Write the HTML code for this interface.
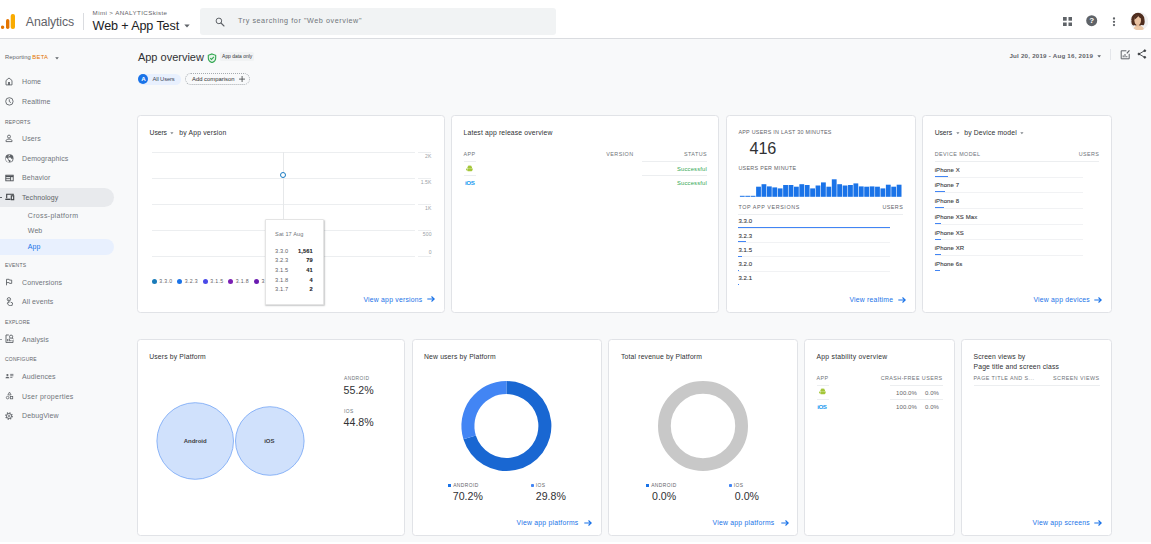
<!DOCTYPE html>
<html>
<head>
<meta charset="utf-8">
<title>Analytics</title>
<style>
*{box-sizing:border-box;margin:0;padding:0}
html,body{width:1151px;height:544px;overflow:hidden;background:#f8f9fa;font-family:"Liberation Sans",sans-serif;color:#202124}
#root{position:fixed;left:0;top:0;width:1151px;height:544px;overflow:hidden;background:#f8f9fa}
.a{position:absolute}
.t{position:absolute;white-space:nowrap;line-height:1;transform:translate(var(--dx,0),calc(-50% + var(--dy,0px)))}
.r{--dx:-100%}
.th{--dy:.9px}
.td{--dy:-.1px}
.hdr{position:absolute;left:0;top:0;width:1151px;height:39px;background:#fff;border-bottom:1px solid #dadce0}
.card{position:absolute;background:#fff;border:1px solid #e1e3e7;border-radius:3.5px}
.nav{font-size:7px;color:#70757a;letter-spacing:.1px}
.sec{font-size:5px;color:#5f6368;letter-spacing:.2px}
.ct{font-size:6.8px;color:#303134;letter-spacing:.16px}
.th{font-size:5.4px;color:#6e7378;letter-spacing:.42px}
.td{font-size:6px;color:#3c4043;letter-spacing:.1px;-webkit-text-stroke:.12px #3c4043}
.lnk{font-size:6.8px;color:#1a73e8;letter-spacing:.24px}
.hl{position:absolute;height:1px;background:#eceef0}
.hl2{background:#f1f2f4}
.bb{position:absolute;height:1px;background:#4285f4}
.big{font-size:10.6px;color:#303134}
</style>
</head>
<body>
<div id="root">

<!-- ================= HEADER ================= -->
<div class="hdr">
  <svg class="a" style="left:.6px;top:13.1px" width="16" height="18" viewBox="0 0 16 18">
    <circle cx="1.6" cy="14.3" r="1.7" fill="#e37400"/>
    <rect x="5" y="6" width="3.4" height="10" rx="1.7" fill="#e37400"/>
    <rect x="9.7" y="1" width="4.3" height="15" rx="2" fill="#f9ab00"/>
  </svg>
  <div class="t" style="left:25.8px;top:21.6px;font-size:12.3px;letter-spacing:-.1px;color:#5f6368">Analytics</div>
  <div class="a" style="left:83px;top:12.7px;width:1px;height:17px;background:#dadce0"></div>
  <div class="t" style="left:92.6px;top:13.3px;font-size:6.2px;letter-spacing:.4px;color:#5f6368">Mimi &gt; ANALYTICSkiste</div>
  <div class="t" style="left:92.6px;top:26.2px;font-size:12.6px;letter-spacing:-.12px;color:#202124">Web + App Test</div>
  <svg class="a" style="left:183.7px;top:23.8px" width="6" height="4" viewBox="0 0 6 4"><path d="M0.3 0.5h5.4L3 3.5z" fill="#5f6368"/></svg>
  <div class="a" style="left:200px;top:8px;width:355.5px;height:26.5px;background:#f1f3f4;border-radius:3px"></div>
  <svg class="a" style="left:214.8px;top:16.6px" width="10" height="10" viewBox="0 0 10 10"><circle cx="3.9" cy="3.9" r="2.8" fill="none" stroke="#5f6368" stroke-width="1"/><path d="M6 6l3 3" stroke="#5f6368" stroke-width="1.1" stroke-linecap="round"/></svg>
  <div class="t" style="left:238px;top:21.4px;font-size:7.2px;color:#70757a;letter-spacing:.57px">Try searching for "Web overview"</div>
  <!-- right icons -->
  <svg class="a" style="left:1063px;top:16.8px" width="9.2" height="9.2" viewBox="0 0 9.2 9.2" fill="#5f6368"><rect x="0" y="0" width="3.7" height="3.7"/><rect x="5.5" y="0" width="3.7" height="3.7"/><rect x="0" y="5.5" width="3.7" height="3.7"/><rect x="5.5" y="5.5" width="3.7" height="3.7"/></svg>
  <svg class="a" style="left:1086.2px;top:15.4px" width="11.4" height="11.4" viewBox="0 0 11.4 11.4"><circle cx="5.7" cy="5.7" r="5.5" fill="#5f6368"/><text x="5.7" y="8.5" font-size="8" font-weight="bold" text-anchor="middle" fill="#fff" font-family="Liberation Sans">?</text></svg>
  <svg class="a" style="left:1112.3px;top:16.5px" width="4" height="10" viewBox="0 0 4 10" fill="#5f6368"><circle cx="2" cy="1.5" r="1.15"/><circle cx="2" cy="4.8" r="1.15"/><circle cx="2" cy="8.1" r="1.15"/></svg>
  <svg class="a" style="left:1129.8px;top:11.5px" width="18.400" height="18.600" viewBox="0 0 18.400 18.600">
    <defs><clipPath id="av"><ellipse cx="9.200" cy="9.300" rx="9.100" ry="9.200"/></clipPath></defs>
    <g clip-path="url(#av)">
      <rect width="18.400" height="18.600" fill="#f0f0f1"/>
      <path d="M3 18.600c.3-3 1.600-4.300 3.600-5.200h3.600c2.400.7 3.800 2.400 4 5.200z" fill="#ebc8a8"/>
      <ellipse cx="7.900" cy="7.400" rx="6.600" ry="6.600" fill="#4f2d1e"/>
      <path d="M1.600 9c-.4 2 .2 3.800 1.600 4.600l2.200-.6V9zM11 13l2.600.2c1-1 1.300-3 .9-5L11 9z" fill="#4f2d1e"/>
      <ellipse cx="7.700" cy="8.200" rx="3.300" ry="4.600" fill="#e9c2a2"/>
      <path d="M6.300 11.500h3v3h-3z" fill="#e5bb99"/>
      <path d="M4.300 7.600C4.300 4.500 5.800 3 8 3c1.800 0 3.200 1.200 3.300 3.600C10 6 8.800 5 8.300 4 7.500 5.500 5.800 6.800 4.300 7.600z" fill="#4f2d1e"/>
    </g>
  </svg>
</div>

<!-- ================= SIDEBAR ================= -->
<div id="side">
  <div class="t" style="left:5.1px;top:57.5px;font-size:5.8px;color:#5f6368;letter-spacing:.05px">Reporting <span style="color:#e37400;letter-spacing:.3px">BETA</span></div>
  <svg class="a" style="left:55px;top:56.5px" width="4" height="3" viewBox="0 0 4 3"><path d="M0.2 0.3h3.6L2 2.6z" fill="#5f6368"/></svg>

  <!-- selected pills -->
  <div class="a" style="left:0;top:188px;width:114px;height:19px;background:#e8eaed;border-radius:0 10px 10px 0"></div>
  <div class="a" style="left:0;top:238.6px;width:114px;height:16px;background:#e8f0fe;border-radius:0 8px 8px 0"></div>
  <div class="a" style="left:0;top:196.7px;width:2px;height:1px;background:#5f6368"></div>
  <div class="a" style="left:0;top:338.7px;width:1.5px;height:1px;background:#9aa0a6"></div>

  <!-- Home -->
  <svg class="a" style="left:4.9px;top:77.2px" width="8" height="8.600" viewBox="0 0 8 8.600" fill="none" stroke="#5f6368" stroke-width=".9"><path d="M1 7.900V3.500L4 1l3 2.500v4.400z"/><path d="M3.100 7.900V4.900h1.800v3z" fill="#5f6368" stroke="none"/></svg>
  <div class="t nav" style="left:22px;top:80.9px">Home</div>
  <!-- Realtime -->
  <svg class="a" style="left:4.900px;top:97px" width="8.800" height="8.800" viewBox="0 0 8.800 8.800" fill="none" stroke="#5f6368" stroke-width=".9"><circle cx="4.400" cy="4.400" r="3.700"/><path d="M4.300 2.300v2.300l1.600 1"/></svg>
  <div class="t nav" style="left:22px;top:101.4px">Realtime</div>

  <div class="t sec" style="left:5px;top:121.8px">REPORTS</div>
  <!-- Users -->
  <svg class="a" style="left:5px;top:134.300px" width="8" height="8.500" viewBox="0 0 8 8.500" fill="none" stroke="#5f6368" stroke-width=".9"><circle cx="4" cy="2.600" r="1.500"/><path d="M1 7.600V6.700c0-1 1.400-1.600 3-1.600s3 .6 3 1.600v.9z"/></svg>
  <div class="t nav" style="left:22px;top:137.9px">Users</div>
  <!-- Demographics -->
  <svg class="a" style="left:4.800px;top:154.100px" width="8.800" height="8.800" viewBox="0 0 8.800 8.800"><circle cx="4.400" cy="4.400" r="4.100" fill="#5f6368"/><path d="M1 3.400l1.900 1.700v1l1 .8v1.400C2 8 .700 6.400.700 4.400c0-.4.100-.7.300-1zM5 .8v.8l-1.500.7.200 1.100 1.800.2 1 1.400 1-.6c.2 1.600-.5 3-1.900 3.700L5.400 6.200l-1.700-.4-.5-1.300 1-1.700-.6-1.500C4 1 4.500.8 5 .8z" fill="#f8f9fa"/></svg>
  <div class="t nav" style="left:22px;top:158.4px">Demographics</div>
  <!-- Behavior -->
  <svg class="a" style="left:5px;top:173.600px" width="9" height="8" viewBox="0 0 9 8" fill="none" stroke="#4d5156" stroke-width=".9"><rect x=".8" y="1.200" width="7.400" height="5.600"/><path d="M.8 2.400h7.400" stroke-width="1.500"/><path d="M5.600 2.600v4.200M.8 4.700h4.800" /></svg>
  <div class="t nav" style="left:22px;top:177px">Behavior</div>
  <!-- Technology -->
  <svg class="a" style="left:4.800px;top:193.300px" width="10" height="8" viewBox="0 0 10 8" fill="none" stroke="#3c4043" stroke-width="1.1"><path d="M1.700 5.300V1.300h6.500v1"/><path d="M.3 6.300h5.200" stroke-width="1.300"/><rect x="6.300" y="2.800" width="2.400" height="3.900"/></svg>
  <div class="t nav" style="left:22px;top:196.8px;color:#5f6368">Technology</div>
  <div class="t nav" style="left:27.8px;top:215.4px;letter-spacing:.33px">Cross-platform</div>
  <div class="t nav" style="left:27.8px;top:229.9px">Web</div>
  <div class="t nav" style="left:27.8px;top:245.9px;color:#1a73e8">App</div>

  <div class="t sec" style="left:5px;top:265px">EVENTS</div>
  <!-- Conversions -->
  <svg class="a" style="left:4.8px;top:278px" width="8" height="8" viewBox="0 0 8 8" fill="none" stroke="#5f6368" stroke-width=".9"><path d="M1.5 7.3V1.3h2.6l.3.8h2.3v3.3H4.5l-.3-.8H1.5"/></svg>
  <div class="t nav" style="left:22px;top:282.2px">Conversions</div>
  <!-- All events -->
  <svg class="a" style="left:4.700px;top:297.200px" width="8.500" height="9.200" viewBox="0 0 8.500 9.200" fill="none" stroke="#5f6368" stroke-width=".9"><circle cx="3.900" cy="2.300" r="1.700"/><path d="M3.900 2.300v3.600l-1-.5-.8.700 2 2.600h2.900l.6-2.700-2-.9" stroke-linejoin="round"/></svg>
  <div class="t nav" style="left:22px;top:300.9px">All events</div>

  <div class="t sec" style="left:5px;top:322.3px">EXPLORE</div>
  <!-- Analysis -->
  <svg class="a" style="left:4.900px;top:334px" width="9" height="9.300" viewBox="0 0 9 9.300" fill="none" stroke="#5f6368" stroke-width=".95"><path d="M3.800 1H1v7.600h7V6"/><circle cx="6.100" cy="2.700" r="1.600"/><path d="M7.200 3.900l1.300 1.400"/><path d="M2.700 7.300V5M4.300 7.300V4.400M5.900 7.300V6" stroke-width="1"/></svg>
  <div class="t nav" style="left:22px;top:338.8px">Analysis</div>

  <div class="t sec" style="left:5px;top:359.4px">CONFIGURE</div>
  <!-- Audiences -->
  <svg class="a" style="left:5px;top:372px" width="9" height="8" viewBox="0 0 9 8" fill="#5f6368"><circle cx="2.4" cy="3" r="1.1"/><path d="M.5 6.3c0-1 .9-1.5 1.9-1.5s1.9.5 1.9 1.5z"/><rect x="5.2" y="1.9" width="3.2" height=".8"/><rect x="5.2" y="3.4" width="3.2" height=".8"/><rect x="5.2" y="4.9" width="2.2" height=".8"/></svg>
  <div class="t nav" style="left:22px;top:375.8px">Audiences</div>
  <!-- User properties -->
  <svg class="a" style="left:4.600px;top:391.400px" width="9" height="9" viewBox="0 0 9 9" fill="none" stroke="#5f6368" stroke-width=".8"><path d="M4.5 1.1L6.1 3.9H2.9z"/><circle cx="2.6" cy="6.6" r="1.3"/><rect x="5.3" y="5.4" width="2.4" height="2.4"/></svg>
  <div class="t nav" style="left:22px;top:395.7px;letter-spacing:.25px">User properties</div>
  <!-- DebugView -->
  <svg class="a" style="left:5.200px;top:411.500px" width="8" height="8" viewBox="0 0 8 8" fill="none" stroke="#5f6368"><circle cx="4" cy="4" r="2.500" stroke-width=".9"/><circle cx="4" cy="4" r="3.200" stroke-width="1.200" stroke-dasharray="1.250 1.260"/><path d="M3 3.400h2M3 4.600h2" stroke-width=".7"/></svg>
  <div class="t nav" style="left:22px;top:414.9px">DebugView</div>
</div>

<!-- ================= MAIN ================= -->
<div id="main">
  <!-- title row -->
  <div class="t" style="left:137.9px;top:57.3px;font-size:11px;color:#303134">App overview</div>
  <svg class="a" style="left:207.2px;top:52.6px" width="10" height="10.4" viewBox="0 0 10 10.4" fill="#e6f4ea" stroke="#34a853" stroke-width="1.1"><path d="M5 .9l3.700 1.400v2.700c0 2.100-1.500 3.800-3.700 4.600C2.800 8.800 1.300 7.100 1.300 5V2.300z"/><path d="M3.200 5.100l1.300 1.300 2.400-2.500" fill="none"/></svg>
  <div class="a" style="left:220px;top:52.4px;width:34px;height:8.6px;background:#f1f3f4;border-radius:1.5px"></div>
  <div class="t" style="left:222.1px;top:56.9px;font-size:4.9px;color:#303134;letter-spacing:.02px">App data only</div>

  <div class="a" style="left:138.3px;top:74px;width:42.8px;height:10.6px;background:#e8f0fe;border-radius:5.3px"></div>
  <div class="a" style="left:138.3px;top:74.1px;width:10.2px;height:10.2px;background:#1a73e8;border-radius:50%"></div>
  <div class="t" style="left:141.2px;top:79.3px;font-size:6.2px;font-weight:bold;color:#fff">A</div>
  <div class="t" style="left:152.5px;top:79.5px;font-size:5.8px;color:#3c4858;letter-spacing:-.12px">All Users</div>
  <div class="a" style="left:185.4px;top:73.2px;width:64.4px;height:12.2px;border:1px dotted #a6abb0;border-radius:6.1px"></div>
  <div class="t" style="left:192px;top:79.5px;font-size:5.9px;color:#303134">Add comparison</div>
  <svg class="a" style="left:238.8px;top:76px" width="6.2" height="6.2" viewBox="0 0 6.2 6.2" stroke="#3c4043" stroke-width=".8"><path d="M3.100 0v6.200M0 3.100h6.200"/></svg>

  <div class="t" style="left:1009.4px;top:56.2px;font-size:6.2px;font-weight:bold;color:#5f6368;letter-spacing:.22px">Jul 20, 2019 - Aug 16, 2019</div>
  <svg class="a" style="left:1097.2px;top:54.8px" width="4.3" height="3" viewBox="0 0 4 3"><path d="M0.2 0.3h3.6L2 2.6z" fill="#5f6368"/></svg>
  <div class="a" style="left:1110px;top:48.5px;width:1px;height:11.5px;background:#e4e6ea"></div>
  <svg class="a" style="left:1119.5px;top:49.3px" width="11" height="11" viewBox="0 0 11 11" fill="none" stroke="#5f6368" stroke-width="1"><path d="M6.400 1.800H1.200v8h8V4.800"/><path d="M3.200 8.300V6.400M5 8.300V5M6.800 8.300V7" stroke-width="1"/><path d="M6.400 4l2.600-3 .9.800-2.600 3z" fill="#5f6368" stroke="none"/></svg>
  <svg class="a" style="left:1137.2px;top:49.4px" width="10" height="10" viewBox="0 0 10 10" fill="#3c4043" stroke="#3c4043" stroke-width=".9"><path d="M7.600 1.700L2 5l5.600 3.300" fill="none"/><circle cx="7.800" cy="1.700" r=".9"/><circle cx="1.900" cy="5" r=".9"/><circle cx="7.800" cy="8.300" r=".9"/></svg>

  <!-- ============ ROW 1 ============ -->
  <!-- card 1: users by app version -->
  <div class="card" style="left:137px;top:115px;width:308px;height:198px"></div>
  <div class="t ct" style="left:149.6px;top:132.5px;letter-spacing:-.08px">Users</div>
  <svg class="a" style="left:170.2px;top:131.7px" width="4" height="3" viewBox="0 0 4 3"><path d="M0.3 0.3h3.2L1.9 2.3z" fill="#80868b"/></svg>
  <div class="t ct" style="left:179.2px;top:132.5px;letter-spacing:.19px">by App version</div>
  <div class="hl" style="left:152px;top:152px;width:262.6px"></div><div class="hl" style="left:417.7px;top:152px;width:13.8px"></div>
  <div class="hl" style="left:152px;top:178px;width:262.6px"></div><div class="hl" style="left:417.7px;top:178px;width:13.8px"></div>
  <div class="hl" style="left:152px;top:204px;width:262.6px"></div><div class="hl" style="left:417.7px;top:204px;width:13.8px"></div>
  <div class="hl" style="left:152px;top:230px;width:262.6px"></div><div class="hl" style="left:417.7px;top:230px;width:13.8px"></div>
  <div class="hl" style="left:152px;top:256px;width:262.6px"></div><div class="hl" style="left:417.7px;top:256px;width:13.8px"></div>
  <div class="t r" style="left:431.6px;top:157.1px;font-size:5.1px;color:#9aa0a6;letter-spacing:.12px">2K</div>
  <div class="t r" style="left:431.6px;top:182.6px;font-size:5.1px;color:#9aa0a6;letter-spacing:.12px">1.5K</div>
  <div class="t r" style="left:431.6px;top:208.8px;font-size:5.1px;color:#9aa0a6;letter-spacing:.12px">1K</div>
  <div class="t r" style="left:431.6px;top:234.7px;font-size:5.1px;color:#9aa0a6;letter-spacing:.12px">500</div>
  <div class="t r" style="left:431.6px;top:252.7px;font-size:5.1px;color:#9aa0a6;letter-spacing:.12px">0</div>
  <div class="a" style="left:283px;top:152px;width:1px;height:68px;background:#e6e8ea"></div>
  <div class="a" style="left:280.3px;top:171.8px;width:6.1px;height:6.1px;border:1.2px solid #1a7bc2;border-radius:50%;background:#fff"></div>
  <!-- legend -->
  <div class="a" style="left:152.1px;top:278.6px;width:5px;height:5px;border-radius:50%;background:#1a7bb9"></div>
  <div class="t" style="left:159.3px;top:282px;font-size:5.2px;color:#5f6368;letter-spacing:.3px">3.3.0</div>
  <div class="a" style="left:177.4px;top:278.6px;width:5px;height:5px;border-radius:50%;background:#1a73e8"></div>
  <div class="t" style="left:184.8px;top:282px;font-size:5.2px;color:#5f6368;letter-spacing:.3px">3.2.3</div>
  <div class="a" style="left:202.8px;top:278.6px;width:5px;height:5px;border-radius:50%;background:#4a4ae8"></div>
  <div class="t" style="left:210.3px;top:282px;font-size:5.2px;color:#5f6368;letter-spacing:.3px">3.1.5</div>
  <div class="a" style="left:228.3px;top:278.6px;width:5px;height:5px;border-radius:50%;background:#7b1fb4"></div>
  <div class="t" style="left:235.8px;top:282px;font-size:5.2px;color:#5f6368;letter-spacing:.3px">3.1.8</div>
  <div class="a" style="left:253.9px;top:278.6px;width:5px;height:5px;border-radius:50%;background:#6a1bb0"></div>
  <div class="t" style="left:261.5px;top:282px;font-size:5.2px;color:#5f6368;letter-spacing:.3px">3.1.7</div>
  <!-- tooltip -->
  <div class="a" style="left:265px;top:219px;width:58.5px;height:86px;background:#fff;border:1px solid #e4e4e4;box-shadow:.5px 1px 1.5px rgba(60,64,67,.28);border-radius:1px"></div>
  <div class="t" style="left:275.1px;top:234.9px;font-size:5.6px;color:#70757a;letter-spacing:.09px">Sat 17 Aug</div>
  <div class="t td" style="left:275.1px;top:251.6px;font-size:5.7px;letter-spacing:.12px;-webkit-text-stroke:0;color:#5f6368">3.3.0</div><div class="t td r" style="left:312.8px;top:251.6px;font-size:5.7px;font-weight:bold;color:#202124;letter-spacing:.1px">1,561</div>
  <div class="t td" style="left:275.1px;top:261.3px;font-size:5.7px;letter-spacing:.12px;-webkit-text-stroke:0;color:#5f6368">3.2.3</div><div class="t td r" style="left:312.8px;top:261.3px;font-size:5.7px;font-weight:bold;color:#202124;letter-spacing:.1px">79</div>
  <div class="t td" style="left:275.1px;top:271px;font-size:5.7px;letter-spacing:.12px;-webkit-text-stroke:0;color:#5f6368">3.1.5</div><div class="t td r" style="left:312.8px;top:271px;font-size:5.7px;font-weight:bold;color:#202124;letter-spacing:.1px">41</div>
  <div class="t td" style="left:275.1px;top:280.7px;font-size:5.7px;letter-spacing:.12px;-webkit-text-stroke:0;color:#5f6368">3.1.8</div><div class="t td r" style="left:312.8px;top:280.7px;font-size:5.7px;font-weight:bold;color:#202124;letter-spacing:.1px">4</div>
  <div class="t td" style="left:275.1px;top:290.4px;font-size:5.7px;letter-spacing:.12px;-webkit-text-stroke:0;color:#5f6368">3.1.7</div><div class="t td r" style="left:312.8px;top:290.4px;font-size:5.7px;font-weight:bold;color:#202124;letter-spacing:.1px">2</div>
  <div class="t lnk" style="left:363.4px;top:299.5px">View app versions</div>
  <svg class="a" style="left:427.2px;top:296.4px" width="8" height="6" viewBox="0 0 8 6" fill="none" stroke="#1a73e8" stroke-width="1.1"><path d="M.3 3h7M4.5 .5L7.200 3 4.500 5.500"/></svg>

  <!-- card 2: latest app release -->
  <div class="card" style="left:451px;top:115px;width:268px;height:198px"></div>
  <div class="t ct" style="left:463.5px;top:132.5px">Latest app release overview</div>
  <div class="t th" style="left:463.5px;top:154.3px">APP</div>
  <div class="t th" style="left:606.3px;top:154.3px">VERSION</div>
  <div class="t th r" style="left:707px;top:154.3px">STATUS</div>
  <div class="hl" style="left:463.5px;top:161.3px;width:12.2px"></div>
  <div class="hl" style="left:642.3px;top:161.3px;width:64.7px"></div>
  <div class="hl" style="left:463.5px;top:175px;width:12.2px"></div>
  <div class="hl" style="left:642.3px;top:175px;width:64.7px"></div>
  <svg class="a" style="left:465.9px;top:165px" width="7.400" height="7" viewBox="0 0 7.400 7" fill="#a4c639"><path d="M1.300 2.900C1.300 1.400 2.300.5 3.700.5S6.100 1.400 6.100 2.900z"/><rect x="1.300" y="3.200" width="4.800" height="3.100" rx=".5"/><rect x=".1" y="3.200" width=".9" height="2.200" rx=".45"/><rect x="6.400" y="3.200" width=".9" height="2.200" rx=".45"/><path d="M2.200.1l.5.800M5.200.1l-.5.800" stroke="#a4c639" stroke-width=".3"/></svg>
  <div class="t r" style="left:707px;top:169.6px;font-size:5.8px;color:#34a853;letter-spacing:.2px">Successful</div>
  <div class="t" style="left:465px;top:183px;font-size:6.2px;font-weight:bold;color:#1a9af0;letter-spacing:-.45px">iOS</div>
  <div class="t r" style="left:707px;top:183.7px;font-size:5.8px;color:#34a853;letter-spacing:.2px">Successful</div>

  <!-- card 3: realtime -->
  <div class="card" style="left:726px;top:115px;width:190px;height:198px"></div>
  <div class="t th" style="left:738.4px;top:132.2px;color:#5f6368;letter-spacing:.27px">APP USERS IN LAST 30 MINUTES</div>
  <div class="t" style="left:749.6px;top:147.8px;font-size:16.2px;color:#303134;letter-spacing:-.2px">416</div>
  <div class="t th" style="left:738.4px;top:167.8px;color:#5f6368;letter-spacing:.3px">USERS PER MINUTE</div>
  <svg class="a" style="left:726px;top:115px" width="190" height="90" viewBox="0 0 190 90" fill="#1a73e8"><rect x="13.90" y="80.80" width="4.81" height="1.00"/><rect x="19.31" y="80.80" width="4.81" height="1.00"/><rect x="24.71" y="80.80" width="4.81" height="1.00"/><rect x="30.12" y="71.70" width="4.81" height="10.10"/><rect x="35.53" y="69.20" width="4.81" height="12.60"/><rect x="40.93" y="71.40" width="4.81" height="10.40"/><rect x="46.34" y="72.40" width="4.81" height="9.40"/><rect x="51.75" y="73.40" width="4.81" height="8.40"/><rect x="57.15" y="70.00" width="4.81" height="11.80"/><rect x="62.56" y="70.00" width="4.81" height="11.80"/><rect x="67.97" y="71.70" width="4.81" height="10.10"/><rect x="73.37" y="69.20" width="4.81" height="12.60"/><rect x="78.78" y="70.00" width="4.81" height="11.80"/><rect x="84.19" y="73.40" width="4.81" height="8.40"/><rect x="89.59" y="70.50" width="4.81" height="11.30"/><rect x="95.00" y="67.40" width="4.81" height="14.40"/><rect x="100.41" y="71.70" width="4.81" height="10.10"/><rect x="105.81" y="64.30" width="4.81" height="17.50"/><rect x="111.22" y="69.20" width="4.81" height="12.60"/><rect x="116.63" y="70.50" width="4.81" height="11.30"/><rect x="122.03" y="70.00" width="4.81" height="11.80"/><rect x="127.44" y="68.40" width="4.81" height="13.40"/><rect x="132.85" y="71.40" width="4.81" height="10.40"/><rect x="138.25" y="71.70" width="4.81" height="10.10"/><rect x="143.66" y="71.40" width="4.81" height="10.40"/><rect x="149.07" y="71.70" width="4.81" height="10.10"/><rect x="154.47" y="73.40" width="4.81" height="8.40"/><rect x="159.88" y="69.70" width="4.81" height="12.10"/><rect x="165.29" y="71.70" width="4.81" height="10.10"/><rect x="170.69" y="69.70" width="4.81" height="12.10"/></svg>
  <div class="t th" style="left:738.4px;top:207.2px;color:#5f6368;letter-spacing:.58px">TOP APP VERSIONS</div>
  <div class="t th r" style="left:903.2px;top:207.2px;color:#5f6368">USERS</div>
  <div class="hl" style="left:738.4px;top:214.2px;width:164.8px"></div>
  <div class="t td" style="left:738.4px;top:221.4px">3.3.0</div>
  <div class="hl hl2" style="left:738.4px;top:227.7px;width:151.4px"></div>
  <div class="bb" style="left:738.4px;top:226.9px;width:151.2px"></div>
  <div class="t td" style="left:738.4px;top:235.6px">3.2.3</div>
  <div class="hl hl2" style="left:738.4px;top:242.0px;width:151.4px"></div>
  <div class="bb" style="left:738.4px;top:241.2px;width:8.0px"></div>
  <div class="t td" style="left:738.4px;top:249.8px">3.1.5</div>
  <div class="hl hl2" style="left:738.4px;top:256.3px;width:151.4px"></div>
  <div class="bb" style="left:738.4px;top:255.5px;width:4.0px"></div>
  <div class="t td" style="left:738.4px;top:264.0px">3.2.0</div>
  <div class="hl hl2" style="left:738.4px;top:270.6px;width:151.4px"></div>
  <div class="bb" style="left:738.4px;top:269.8px;width:0.8px"></div>
  <div class="t td" style="left:738.4px;top:278.3px">3.2.1</div>
  <div class="bb" style="left:738.4px;top:284.0px;width:0.8px"></div>
  <div class="t lnk" style="left:849.4px;top:299.5px">View realtime</div>
  <svg class="a" style="left:898.4px;top:296.5px" width="8" height="6" viewBox="0 0 8 6" fill="none" stroke="#1a73e8" stroke-width="1.1"><path d="M.3 3h7M4.500 .5L7.200 3 4.500 5.500"/></svg>

  <!-- card 4: device model -->
  <div class="card" style="left:922px;top:115px;width:190px;height:198px"></div>
  <div class="t ct" style="left:934.7px;top:132.5px;letter-spacing:-.08px">Users</div>
  <svg class="a" style="left:955.8px;top:131.7px" width="4" height="3" viewBox="0 0 4 3"><path d="M0.3 0.3h3.2L1.9 2.3z" fill="#80868b"/></svg>
  <div class="t ct" style="left:964.2px;top:132.5px">by Device model</div>
  <svg class="a" style="left:1019.6px;top:131.6px" width="4" height="3" viewBox="0 0 4 3"><path d="M0.3 0.3h3.2L1.9 2.3z" fill="#80868b"/></svg>
  <div class="t th" style="left:934.7px;top:154.3px">DEVICE MODEL</div>
  <div class="t th r" style="left:1099.4px;top:154.3px">USERS</div>
  <div class="hl" style="left:934.7px;top:161.3px;width:164.7px"></div>
  <div class="t td" style="left:934.7px;top:169.7px">iPhone X</div>
  <div class="hl hl2" style="left:934.7px;top:176.5px;width:148px"></div>
  <div class="bb" style="left:934.7px;top:175.7px;width:13.7px"></div>
  <div class="t td" style="left:934.7px;top:185.4px">iPhone 7</div>
  <div class="hl hl2" style="left:934.7px;top:192.2px;width:148px"></div>
  <div class="bb" style="left:934.7px;top:191.4px;width:10.5px"></div>
  <div class="t td" style="left:934.7px;top:201.1px">iPhone 8</div>
  <div class="hl hl2" style="left:934.7px;top:207.9px;width:148px"></div>
  <div class="bb" style="left:934.7px;top:207.1px;width:9.7px"></div>
  <div class="t td" style="left:934.7px;top:216.9px">iPhone XS Max</div>
  <div class="hl hl2" style="left:934.7px;top:223.7px;width:148px"></div>
  <div class="bb" style="left:934.7px;top:222.9px;width:6.5px"></div>
  <div class="t td" style="left:934.7px;top:232.6px">iPhone XS</div>
  <div class="hl hl2" style="left:934.7px;top:239.4px;width:148px"></div>
  <div class="bb" style="left:934.7px;top:238.6px;width:6.0px"></div>
  <div class="t td" style="left:934.7px;top:248.3px">iPhone XR</div>
  <div class="hl hl2" style="left:934.7px;top:255.1px;width:148px"></div>
  <div class="bb" style="left:934.7px;top:254.3px;width:6.0px"></div>
  <div class="t td" style="left:934.7px;top:264.0px">iPhone 6s</div>
  <div class="bb" style="left:934.7px;top:270.0px;width:5.0px"></div>
  <div class="t lnk" style="left:1033.4px;top:299.5px">View app devices</div>
  <svg class="a" style="left:1094.3px;top:296.5px" width="8" height="6" viewBox="0 0 8 6" fill="none" stroke="#1a73e8" stroke-width="1.1"><path d="M.3 3h7M4.500 .5L7.200 3 4.500 5.500"/></svg>

  <!-- ============ ROW 2 ============ -->
  <!-- card 5: users by platform -->
  <div class="card" style="left:137px;top:339px;width:268px;height:197px"></div>
  <div class="t ct" style="left:149.2px;top:357px">Users by Platform</div>
  <svg class="a" style="left:138px;top:340px" width="266" height="195" viewBox="138 340 266 195"><circle cx="195.2" cy="441" r="38.3" fill="#d0e1fc" stroke="#74a5f5" stroke-width=".8"/><circle cx="269.8" cy="441" r="34.3" fill="#d0e1fc" stroke="#74a5f5" stroke-width=".8"/></svg>
  <div class="t" style="left:195.2px;top:441.2px;font-size:6px;font-weight:bold;color:#3c4043;--dx:-50%">Android</div>
  <div class="t" style="left:269.3px;top:441.2px;font-size:6px;font-weight:bold;color:#3c4043;--dx:-50%">iOS</div>
  <div class="t th" style="left:344px;top:379.2px;font-size:4.9px">ANDROID</div>
  <div class="t big" style="left:343.6px;top:389.6px">55.2%</div>
  <div class="t th" style="left:344px;top:411.6px;font-size:4.9px">IOS</div>
  <div class="t big" style="left:343.6px;top:422px">44.8%</div>

  <!-- card 6: new users by platform -->
  <div class="card" style="left:412px;top:339px;width:190px;height:197px"></div>
  <div class="t ct" style="left:424px;top:357px">New users by Platform</div>
  <svg class="a" style="left:413px;top:340px" width="188" height="195" viewBox="413 340 188 195"><path d="M506.40 381.00A45.00 45.00 0 1 1 463.43 439.37L475.84 435.51A32.00 32.00 0 1 0 506.40 394.00Z" fill="#1967d2"/><path d="M463.43 439.37A45.00 45.00 0 0 1 506.40 381.00L506.40 394.00A32.00 32.00 0 0 0 475.84 435.51Z" fill="#4285f4"/></svg>
  <div class="a" style="left:448.1px;top:483.9px;width:2.8px;height:2.7px;background:#1a73e8"></div>
  <div class="t th" style="left:453.2px;top:486.2px;font-size:4.9px;color:#5f6368">ANDROID</div>
  <div class="t big" style="left:452.8px;top:495.7px">70.2%</div>
  <div class="a" style="left:531.1px;top:483.9px;width:2.8px;height:2.7px;background:#4285f4;border-radius:30%"></div>
  <div class="t th" style="left:535.8px;top:486.2px;font-size:4.9px;color:#5f6368">IOS</div>
  <div class="t big" style="left:535.8px;top:495.7px">29.8%</div>
  <div class="t lnk" style="left:516.5px;top:522.6px">View app platforms</div>
  <svg class="a" style="left:584.4px;top:519.6px" width="8" height="6" viewBox="0 0 8 6" fill="none" stroke="#1a73e8" stroke-width="1.1"><path d="M.3 3h7M4.500 .5L7.200 3 4.500 5.500"/></svg>

  <!-- card 7: total revenue by platform -->
  <div class="card" style="left:608px;top:339px;width:190px;height:197px"></div>
  <div class="t ct" style="left:621px;top:357px">Total revenue by Platform</div>
  <svg class="a" style="left:609px;top:340px" width="188" height="195" viewBox="609 340 188 195"><circle cx="703" cy="426" r="38.6" fill="none" stroke="#c8c8c8" stroke-width="12.8"/></svg>
  <div class="a" style="left:646.1px;top:483.9px;width:2.8px;height:2.7px;background:#1a73e8"></div>
  <div class="t th" style="left:651.2px;top:486.2px;font-size:4.9px;color:#5f6368">ANDROID</div>
  <div class="t big" style="left:652px;top:495.7px">0.0%</div>
  <div class="a" style="left:729px;top:483.9px;width:2.8px;height:2.7px;background:#4285f4;border-radius:30%"></div>
  <div class="t th" style="left:733.8px;top:486.2px;font-size:4.9px;color:#5f6368">IOS</div>
  <div class="t big" style="left:734.8px;top:495.7px">0.0%</div>
  <div class="t lnk" style="left:712.5px;top:522.6px">View app platforms</div>
  <svg class="a" style="left:780.6px;top:519.6px" width="8" height="6" viewBox="0 0 8 6" fill="none" stroke="#1a73e8" stroke-width="1.1"><path d="M.3 3h7M4.500 .5L7.200 3 4.500 5.500"/></svg>

  <!-- card 8: app stability -->
  <div class="card" style="left:804px;top:339px;width:151px;height:197px"></div>
  <div class="t ct" style="left:816.5px;top:357px;letter-spacing:.25px">App stability overview</div>
  <div class="t th" style="left:816.5px;top:377.7px">APP</div>
  <div class="t th r" style="left:942.5px;top:377.7px">CRASH-FREE USERS</div>
  <div class="hl" style="left:890px;top:384.8px;width:53px"></div><div class="hl" style="left:816.5px;top:384.8px;width:12.5px"></div><div class="hl" style="left:816.5px;top:399.3px;width:12.5px"></div>
  <div class="hl" style="left:890px;top:399.3px;width:53px"></div>
  <svg class="a" style="left:818.6px;top:388.3px" width="7.400" height="7" viewBox="0 0 7.400 7" fill="#a4c639"><path d="M1.300 2.900C1.300 1.400 2.300.5 3.700.5S6.100 1.400 6.100 2.900z"/><rect x="1.300" y="3.200" width="4.800" height="3.100" rx=".5"/><rect x=".1" y="3.200" width=".9" height="2.200" rx=".45"/><rect x="6.400" y="3.200" width=".9" height="2.200" rx=".45"/><path d="M2.200.1l.5.800M5.200.1l-.5.800" stroke="#a4c639" stroke-width=".3"/></svg>
  <div class="t td r" style="left:917px;top:392.9px;-webkit-text-stroke:0;color:#5f6368">100.0%</div>
  <div class="t td r" style="left:939px;top:392.9px;-webkit-text-stroke:0;color:#5f6368">0.0%</div>
  <div class="t" style="left:817.2px;top:406.6px;font-size:6.2px;font-weight:bold;color:#1a9af0;letter-spacing:-.45px">iOS</div>
  <div class="t td r" style="left:917px;top:406.6px;-webkit-text-stroke:0;color:#5f6368">100.0%</div>
  <div class="t td r" style="left:939px;top:406.6px;-webkit-text-stroke:0;color:#5f6368">0.0%</div>

  <!-- card 9: screen views -->
  <div class="card" style="left:961px;top:339px;width:151px;height:197px"></div>
  <div class="t ct" style="left:973.5px;top:357px">Screen views by</div>
  <div class="t ct" style="left:973.5px;top:367px">Page title and screen class</div>
  <div class="t th" style="left:973.5px;top:377.7px">PAGE TITLE AND S...</div>
  <div class="t th r" style="left:1099.5px;top:377.7px">SCREEN VIEWS</div>
  <div class="hl" style="left:973.5px;top:385px;width:126px"></div>
  <div class="t lnk" style="left:1032.5px;top:522.6px">View app screens</div>
  <svg class="a" style="left:1094.2px;top:519.6px" width="8" height="6" viewBox="0 0 8 6" fill="none" stroke="#1a73e8" stroke-width="1.1"><path d="M.3 3h7M4.500 .5L7.200 3 4.500 5.500"/></svg>
</div>
<div class="a" style="left:0;top:541.7px;width:1151px;height:3px;background:#fff"></div>

</div>
</body>
</html>
